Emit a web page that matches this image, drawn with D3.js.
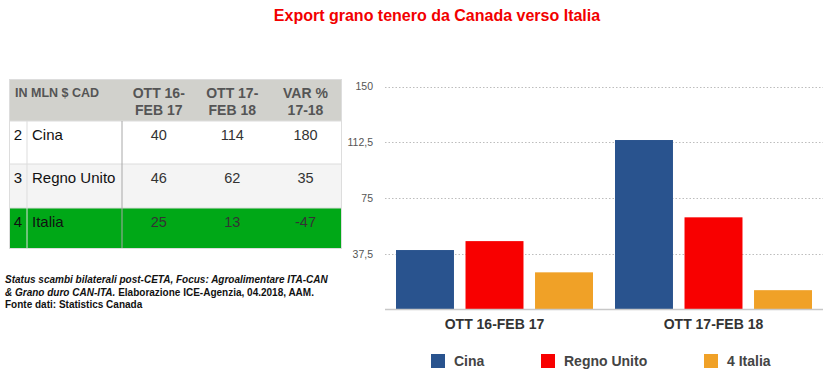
<!DOCTYPE html>
<html><head><meta charset="utf-8">
<script src="https://cdn.jsdelivr.net/npm/d3@7"></script>
<style>
body{margin:0;background:#fff;}
svg{display:block;font-family:"Liberation Sans",Arial,Helvetica,sans-serif;}
</style></head>
<body><svg id="c" width="827" height="369"></svg>
<script>
const title = "Export grano tenero da Canada verso Italia";
const categories = ["OTT 16-FEB 17", "OTT 17-FEB 18"];
const seriesNames = ["Cina", "Regno Unito", "4 Italia"];
const seriesColors = ["#29538e", "#f80000", "#f0a127"];
const cina = [40, 114];
const regnoUnito = [46, 62];
const italia = [25, 13];
const yTicks = [37.5, 75, 112.5, 150];

const tableHeader = ["IN MLN $ CAD", "OTT 16-\nFEB 17", "OTT 17-\nFEB 18", "VAR %\n17-18"];
const tableRank = ["2", "3", "4"];
const tableNames = ["Cina", "Regno Unito", "Italia"];
const varPct = [180, 35, -47];
const footnote = [
  [["Status scambi bilaterali post-CETA, Focus: Agroalimentare ITA-CAN", true]],
  [["& Grano duro CAN-ITA.", true], [" Elaborazione ICE-Agenzia, 04.2018, AAM.", false]],
  [["Fonte dati: Statistics Canada", false]]
];

const values = [cina, regnoUnito, italia];
const svg = d3.select("#c");

// Title
svg.append("text").attr("x", 437).attr("y", 21).attr("text-anchor", "middle")
  .attr("font-size", 16).attr("font-weight", "bold").attr("fill", "#f20000").text(title);

// ---------- Table ----------
const tX = 9, tW = 333;
const colX = [9, 27, 122, 195.5, 269, 342];
const rowY = [79, 121, 164, 208, 249];
const rowFill = ["#ffffff", "#f4f4f4", "#00a817"];
const tg = svg.append("g");
tg.append("rect").attr("x", tX).attr("y", rowY[0]).attr("width", tW).attr("height", rowY[1]-rowY[0]).attr("fill", "#d1d1cc");
tableNames.forEach((n, i) => {
  tg.append("rect").attr("x", tX).attr("y", rowY[i+1]).attr("width", tW).attr("height", rowY[i+2]-rowY[i+1]).attr("fill", rowFill[i]);
  tg.append("line").attr("x1", tX).attr("x2", tX+tW).attr("y1", rowY[i+1]).attr("y2", rowY[i+1]).attr("stroke", "#dcdcdc");
});
// vertical lines in body
tg.append("line").attr("x1", colX[1]).attr("x2", colX[1]).attr("y1", rowY[1]).attr("y2", rowY[4]).attr("stroke", "#dddddd");
tg.append("line").attr("x1", colX[2]).attr("x2", colX[2]).attr("y1", rowY[1]).attr("y2", rowY[4]).attr("stroke", "#a8a8a8");
tg.append("rect").attr("x", tX+0.5).attr("y", rowY[0]+0.5).attr("width", tW-1).attr("height", rowY[4]-rowY[0]-1)
  .attr("fill", "none").attr("stroke", "#dddddd");

// header text
tg.append("text").attr("x", 15).attr("y", 97).attr("font-size", 12.5).attr("font-weight", "bold").attr("fill", "#555")
  .text(tableHeader[0]);
[1,2,3].forEach(j => {
  const cx = (colX[j+1] + colX[j+2]) / 2;
  const lines = tableHeader[j].split("\n");
  lines.forEach((l, k) => {
    tg.append("text").attr("x", cx).attr("y", 98 + k*17).attr("text-anchor", "middle")
      .attr("font-size", 14).attr("font-weight", "bold").attr("fill", "#555").text(l);
  });
});
// body text
tableNames.forEach((n, i) => {
  const y = rowY[i+1] + 19;
  tg.append("text").attr("x", 18).attr("y", y).attr("text-anchor", "middle").attr("font-size", 15).attr("fill", "#111").text(tableRank[i]);
  tg.append("text").attr("x", 32).attr("y", y).attr("font-size", 15).attr("fill", "#111").text(n);
  const row = [values[i][0], values[i][1], varPct[i]];
  row.forEach((v, j) => {
    const cx = (colX[j+2] + colX[j+3]) / 2;
    tg.append("text").attr("x", cx).attr("y", y).attr("text-anchor", "middle").attr("font-size", 14.5)
      .attr("fill", "#333").text(v);
  });
});

// footnote
footnote.forEach((parts, i) => {
  const t = svg.append("text").attr("x", 5).attr("y", 283 + i*12.5).attr("font-size", 10).attr("font-weight", "bold").attr("fill", "#111");
  parts.forEach(p => {
    t.append("tspan").attr("font-style", p[1] ? "italic" : "normal").text(p[0]);
  });
});

// ---------- Chart ----------
const x0 = d3.scaleBand().domain(categories).range([385, 823]).padding(0);
const x1 = d3.scaleBand().domain(seriesNames).range([11, x0.bandwidth() - 11]).paddingInner(0.166).paddingOuter(0);
const y = d3.scaleLinear().domain([0, 150]).range([309.5, 86.5]);

const grid = svg.append("g");
grid.selectAll("line").data(yTicks).join("line")
  .attr("x1", 385).attr("x2", 823).attr("y1", d => Math.round(y(d)) + 0.5).attr("y2", d => Math.round(y(d)) + 0.5)
  .attr("stroke", "#bdbdbd").attr("stroke-dasharray", "1.5,2");

const yAxis = d3.axisLeft(y).tickValues(yTicks).tickSize(0).tickPadding(0)
  .tickFormat(d => d3.format("")(d).replace(".", ","));
const ya = svg.append("g").attr("transform", "translate(373,0)").call(yAxis);
ya.select(".domain").remove();
ya.selectAll("text").attr("font-size", 10.5).attr("fill", "#555").attr("font-family", "Liberation Sans, Arial, sans-serif");

const groups = svg.append("g").selectAll("g").data(categories).join("g")
  .attr("transform", d => `translate(${x0(d)},0)`);
groups.selectAll("rect").data((d, ci) => seriesNames.map((s, si) => ({s, si, v: values[si][ci]}))).join("rect")
  .attr("x", d => x1(d.s)).attr("width", x1.bandwidth())
  .attr("y", d => y(d.v)).attr("height", d => y(0) - y(d.v))
  .attr("fill", d => seriesColors[d.si]);

const xAxis = d3.axisBottom(x0).tickSize(0).tickPadding(10);
const xa = svg.append("g").attr("transform", "translate(0,309.5)").call(xAxis);
xa.select(".domain").attr("stroke", "#c8c8c8").attr("stroke-width", 1.5).attr("d", "M385,0H823");
xa.selectAll("text").attr("font-size", 14).attr("font-weight", "bold").attr("fill", "#333")
  .attr("font-family", "Liberation Sans, Arial, sans-serif");

// legend
const legX = [431, 541, 704];
const leg = svg.append("g");
seriesNames.forEach((s, i) => {
  leg.append("rect").attr("x", legX[i]).attr("y", 354).attr("width", 14).attr("height", 14).attr("fill", seriesColors[i]);
  leg.append("text").attr("x", legX[i] + 23).attr("y", 366).attr("font-size", 14).attr("font-weight", "bold").attr("fill", "#444").text(s);
});
</script></body></html>
